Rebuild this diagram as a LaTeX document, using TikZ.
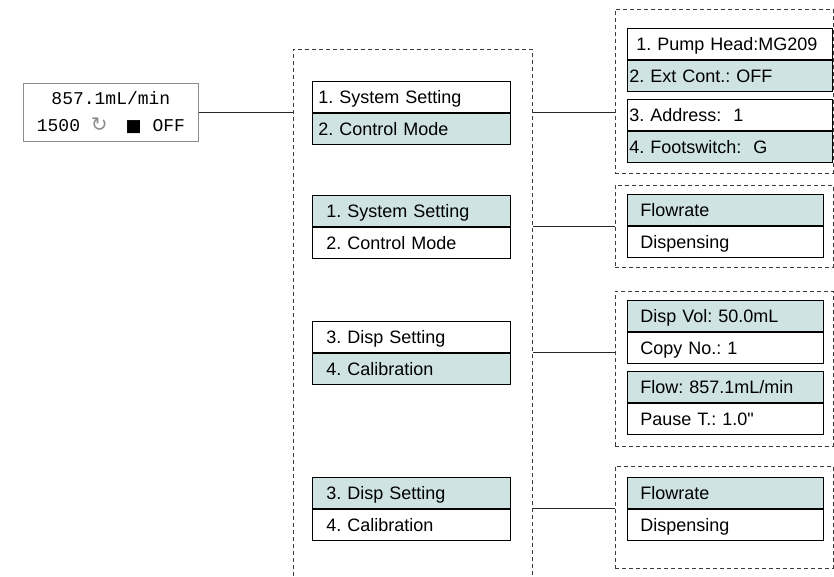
\documentclass[tikz,border=0pt]{standalone}
\usepackage{fontspec}
\setmainfont{Liberation Sans}
\newfontfamily\menufont{Liberation Sans}
\newfontfamily\lcdfont{Liberation Mono}
\newfontfamily\symfont{DejaVu Sans}
\usetikzlibrary{positioning}
\definecolor{selfill}{RGB}{207,227,227}
\definecolor{dashgray}{RGB}{60,60,60}
\frenchspacing

\begin{document}
\begin{tikzpicture}[x=1pt,y=-1pt]
\tikzstyle{every node}+=[inner sep=0pt]
\tikzstyle{menurow}=[draw=black, line width=0.8pt, anchor=north west, minimum height=31pt, align=left, text height=14pt, text depth=1pt, font=\menufont\fontsize{18}{20}\selectfont]
\tikzstyle{midrow}=[menurow, text width=186pt, inner xsep=6pt]
\tikzstyle{midrowb}=[menurow, text width=170pt, inner xsep=14pt]
\tikzstyle{setrow}=[menurow, text width=187pt, inner xsep=9pt]
\tikzstyle{setrowb}=[menurow, text width=201pt, inner xsep=2pt]
\tikzstyle{subrow}=[menurow, text width=170pt, inner xsep=13pt]
\tikzstyle{sel}=[fill=selfill]
\tikzstyle{dashframe}=[draw=dashgray, dash pattern=on 4pt off 3pt, line width=0.8pt, anchor=north west, inner sep=0pt]
\tikzstyle{wire}=[draw=black!85, line width=0.8pt]
\useasboundingbox (0,0) rectangle (834,577);
\node[dashframe, minimum width=239pt, minimum height=560pt] (midframe) at (293,49) {};
\node[dashframe, minimum width=218pt, minimum height=164pt] (setframe) at (615,9) {};
\node[dashframe, minimum width=218pt, minimum height=82pt] (modeframe) at (615,185) {};
\node[dashframe, minimum width=218pt, minimum height=155pt] (dispframe) at (615,291) {};
\node[dashframe, minimum width=218pt, minimum height=102pt] (modeframeb) at (615,466) {};
\node[draw=black!45, line width=0.8pt, minimum width=175pt, minimum height=58pt, align=center, anchor=north west, font=\lcdfont\fontsize{18}{27}\selectfont] (lcd) at (23,83)
  {857.1mL/min\\1500 {\symfont\fontsize{20}{27}\selectfont\color{black!45}↻}\hspace{18pt}{\symfont\fontsize{17}{27}\selectfont■} OFF};
% main menu
\node[midrow] (m1a) at (312,81) {1. System Setting};
\node[midrow, sel, below=0pt of m1a] (m1b) {2. Control Mode};
\node[midrowb, sel] (m2a) at (312,195) {1. System Setting};
\node[midrowb, below=0pt of m2a] (m2b) {2. Control Mode};
\node[midrowb] (m3a) at (312,321) {3. Disp Setting};
\node[midrowb, sel, below=0pt of m3a] (m3b) {4. Calibration};
\node[midrowb, sel] (m4a) at (312,477) {3. Disp Setting};
\node[midrowb, below=0pt of m4a] (m4b) {4. Calibration};
% sub menus
\node[setrow] (s1a) at (627,28) {1. Pump Head:MG209};
\node[setrowb, sel, below=0pt of s1a] (s1b) {2. Ext Cont.: OFF};
\node[setrowb] (s2a) at (627,99) {3. Address:\ \ 1};
\node[setrowb, sel, below=0pt of s2a] (s2b) {4. Footswitch:\ \ G};
\node[subrow, sel] (c1a) at (627,194) {Flowrate};
\node[subrow, below=0pt of c1a] (c1b) {Dispensing};
\node[subrow, sel] (d1a) at (627,300) {Disp Vol: 50.0mL};
\node[subrow, below=0pt of d1a] (d1b) {Copy No.: 1};
\node[subrow, sel] (d2a) at (627,371) {Flow: 857.1mL/min};
\node[subrow, below=0pt of d2a] (d2b) {Pause T.: 1.0"};
\node[subrow, sel] (c2a) at (627,477) {Flowrate};
\node[subrow, below=0pt of c2a] (c2b) {Dispensing};
\draw[wire] (lcd.east) -- (lcd.east -| midframe.west);
\foreach \m/\f in {m1a/setframe, m2a/modeframe, m3a/dispframe, m4a/modeframeb}
  \draw[wire] (\m.south -| midframe.east) -- (\m.south -| \f.west);
\end{tikzpicture}
\end{document}
